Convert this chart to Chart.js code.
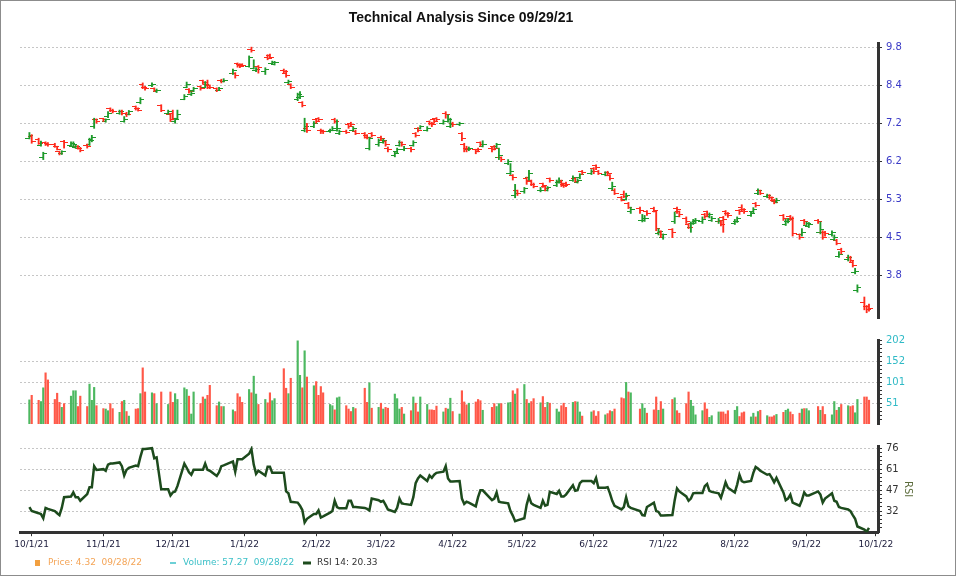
<!DOCTYPE html>
<html>
<head>
<meta charset="utf-8">
<script src="https://cdn.jsdelivr.net/npm/chart.js@4.4.1/dist/chart.umd.min.js"></script>
<style>
  html, body { margin: 0; padding: 0; background: #fff; }
  #wrap { position: relative; width: 960px; height: 576px; overflow: hidden; }
  #frame { position: absolute; left: 0; top: 0; width: 954px; height: 574px; border: 1px solid #8c8c8c; }
  canvas { position: absolute; left: 0; }
</style>
</head>
<body>
<div id="wrap">
  <div id="frame"></div>
  <canvas id="priceChart" width="922" height="328" style="top:0px"></canvas>
  <canvas id="volChart" width="922" height="104" style="top:330px"></canvas>
  <canvas id="rsiChart" width="918" height="140" style="top:436px"></canvas>
</div>
<script>
const chartTitle = 'Technical Analysis Since 09/29/21'
const legendItems = ['Price: 4.32  09/28/22', 'Volume: 57.27  09/28/22', 'RSI 14: 20.33']

const dates = [
  '9/30/21',
  '10/1/21','10/4/21','10/5/21','10/6/21','10/7/21','10/8/21','10/11/21','10/12/21','10/13/21','10/14/21','10/15/21',
  '10/18/21','10/19/21','10/20/21','10/21/21','10/22/21','10/25/21','10/26/21','10/27/21','10/28/21','10/29/21',
  '11/1/21','11/2/21','11/3/21','11/4/21','11/5/21','11/8/21','11/9/21','11/10/21','11/11/21','11/12/21','11/15/21',
  '11/16/21','11/17/21','11/18/21','11/19/21','11/22/21','11/23/21','11/24/21','11/26/21','11/29/21','11/30/21',
  '12/1/21','12/2/21','12/3/21','12/6/21','12/7/21','12/8/21','12/9/21','12/10/21','12/13/21','12/14/21','12/15/21',
  '12/16/21','12/17/21','12/20/21','12/21/21','12/22/21','12/23/21','12/27/21','12/28/21','12/29/21','12/30/21','12/31/21',
  '1/3/22','1/4/22','1/5/22','1/6/22','1/7/22','1/10/22','1/11/22','1/12/22','1/13/22','1/14/22',
  '1/18/22','1/19/22','1/20/22','1/21/22','1/24/22','1/25/22','1/26/22','1/27/22','1/28/22','1/31/22',
  '2/1/22','2/2/22','2/3/22','2/4/22','2/7/22','2/8/22','2/9/22','2/10/22','2/11/22','2/14/22',
  '2/15/22','2/16/22','2/17/22','2/18/22','2/22/22','2/23/22','2/24/22','2/25/22','2/28/22',
  '3/1/22','3/2/22','3/3/22','3/4/22','3/7/22','3/8/22','3/9/22','3/10/22','3/11/22','3/14/22','3/15/22','3/16/22',
  '3/17/22','3/18/22','3/21/22','3/22/22','3/23/22','3/24/22','3/25/22','3/28/22','3/29/22','3/30/22','3/31/22',
  '4/1/22','4/4/22','4/5/22','4/6/22','4/7/22','4/8/22','4/11/22','4/12/22','4/13/22','4/14/22',
  '4/18/22','4/19/22','4/20/22','4/21/22','4/22/22','4/25/22','4/26/22','4/27/22','4/28/22','4/29/22',
  '5/2/22','5/3/22','5/4/22','5/5/22','5/6/22','5/9/22','5/10/22','5/11/22','5/12/22','5/13/22','5/16/22',
  '5/17/22','5/18/22','5/19/22','5/20/22','5/23/22','5/24/22','5/25/22','5/26/22','5/27/22','5/31/22',
  '6/1/22','6/2/22','6/3/22','6/6/22','6/7/22','6/8/22','6/9/22','6/10/22','6/13/22','6/14/22','6/15/22',
  '6/16/22','6/17/22','6/21/22','6/22/22','6/23/22','6/24/22','6/27/22','6/28/22','6/29/22','6/30/22',
  '7/1/22','7/5/22','7/6/22','7/7/22','7/8/22','7/11/22','7/12/22','7/13/22','7/14/22','7/15/22',
  '7/18/22','7/19/22','7/20/22','7/21/22','7/22/22','7/25/22','7/26/22','7/27/22','7/28/22','7/29/22',
  '8/1/22','8/2/22','8/3/22','8/4/22','8/5/22','8/8/22','8/9/22','8/10/22','8/11/22','8/12/22','8/15/22','8/16/22',
  '8/17/22','8/18/22','8/19/22','8/22/22','8/23/22','8/24/22','8/25/22','8/26/22','8/29/22','8/30/22','8/31/22',
  '9/1/22','9/2/22','9/6/22','9/7/22','9/8/22','9/9/22','9/12/22','9/13/22','9/14/22','9/15/22',
  '9/16/22','9/19/22','9/20/22','9/21/22','9/22/22','9/23/22','9/26/22','9/27/22','9/28/22'
]

// price bars, one value per trading day
const opens = [
  6.72,
  6.78,6.68,6.52,6.20,6.60,6.58,6.56,6.48,6.35,6.30,6.62,6.52,6.48,6.46,6.50,6.45,6.53,6.55,6.68,7.05,7.25,
  7.28,7.20,7.35,7.60,7.55,7.45,7.52,7.20,7.45,7.42,7.65,7.60,7.80,8.40,8.30,8.35,8.25,8.15,7.70,7.45,7.40,
  7.45,7.20,7.30,7.90,8.30,8.22,8.05,8.18,8.32,8.52,8.30,8.38,8.35,8.25,8.20,8.55,8.50,8.80,8.80,9.15,9.12,9.12,
  9.05,9.72,8.98,8.90,9.05,8.85,9.40,9.48,9.15,9.12,8.90,8.80,8.45,8.40,7.90,7.95,7.80,6.95,7.00,7.05,
  7.25,7.28,6.95,6.93,6.90,6.95,7.25,6.95,6.85,6.92,7.10,7.15,6.95,6.92,6.85,6.80,6.45,6.85,6.55,
  6.75,6.60,6.62,6.45,6.25,6.35,6.52,6.60,6.40,6.45,6.52,6.85,7.00,7.00,6.95,7.20,7.15,7.25,7.30,7.15,7.45,7.20,7.05,
  7.15,7.10,6.85,6.55,6.45,6.40,6.40,6.42,6.60,6.50,6.45,6.50,6.48,6.20,6.20,6.05,5.80,5.75,5.30,5.40,
  5.38,5.68,5.70,5.62,5.55,5.40,5.56,5.50,5.42,5.68,5.52,5.60,5.62,5.55,5.58,5.65,5.68,5.60,5.70,5.85,5.80,
  5.92,6.00,5.85,5.78,5.84,5.75,5.45,5.42,5.25,5.32,5.22,5.12,4.95,5.02,4.78,4.78,4.95,5.02,4.95,4.52,4.55,
  4.45,4.60,4.75,5.02,4.95,4.82,4.70,4.65,4.72,4.75,4.75,4.90,4.95,4.85,4.78,4.75,4.76,4.84,4.95,4.92,
  4.72,4.76,4.98,5.05,5.00,4.88,4.95,5.12,5.35,5.40,5.27,5.30,5.25,5.20,5.16,4.88,4.70,4.75,4.86,4.82,4.50,4.50,4.78,
  4.68,4.66,4.78,4.55,4.55,4.55,4.50,4.42,4.40,4.12,4.24,4.06,4.10,4.02,3.85,3.58,3.40,3.34,3.35
]
const highs = [
  6.88,
  6.82,6.72,6.64,6.34,6.62,6.60,6.58,6.50,6.37,6.38,6.66,6.62,6.62,6.54,6.52,6.47,6.56,6.72,6.80,7.30,7.28,
  7.30,7.28,7.50,7.62,7.58,7.55,7.55,7.35,7.48,7.54,7.68,7.62,7.95,8.45,8.33,8.45,8.28,8.24,7.72,7.55,7.42,
  7.55,7.30,7.55,8.05,8.48,8.25,8.15,8.30,8.35,8.55,8.50,8.55,8.38,8.28,8.30,8.58,8.60,8.95,8.82,9.18,9.15,9.15,
  9.45,9.80,9.30,9.00,9.08,9.00,9.50,9.52,9.25,9.24,8.95,8.90,8.55,8.42,8.10,8.15,7.82,7.30,7.15,7.20,
  7.28,7.32,6.98,6.95,6.98,7.05,7.30,7.25,6.95,6.95,7.12,7.18,7.05,6.95,6.88,6.82,6.75,6.88,6.70,
  6.78,6.70,6.65,6.48,6.35,6.45,6.65,6.62,6.50,6.48,6.65,6.88,7.02,7.08,7.05,7.22,7.18,7.28,7.32,7.25,7.50,7.40,7.30,
  7.18,7.18,6.88,6.58,6.50,6.48,6.42,6.45,6.62,6.65,6.48,6.52,6.58,6.45,6.22,6.15,6.05,5.78,5.55,5.42,
  5.48,5.72,5.88,5.65,5.58,5.48,5.58,5.52,5.50,5.70,5.65,5.70,5.65,5.58,5.60,5.75,5.70,5.68,5.80,5.88,5.90,
  5.95,6.02,5.88,5.85,5.86,5.78,5.60,5.45,5.28,5.40,5.35,5.15,5.05,5.05,4.90,4.88,4.98,5.05,4.98,4.62,4.58,
  4.52,4.62,4.95,5.05,4.97,4.85,4.72,4.75,4.80,4.82,4.85,4.92,4.97,4.93,4.86,4.82,4.78,4.86,4.98,4.94,
  4.80,4.85,5.00,5.10,5.02,4.95,5.04,5.15,5.45,5.42,5.33,5.32,5.27,5.22,5.24,4.90,4.80,4.82,4.88,4.85,4.52,4.62,4.80,
  4.75,4.74,4.80,4.75,4.58,4.57,4.58,4.50,4.42,4.20,4.26,4.14,4.12,4.04,3.92,3.66,3.48,3.36,3.38
]
const lows = [
  6.70,
  6.58,6.55,6.50,6.15,6.52,6.50,6.47,6.40,6.27,6.28,6.45,6.50,6.46,6.44,6.42,6.35,6.45,6.52,6.62,7.00,7.15,
  7.20,7.18,7.32,7.50,7.46,7.42,7.40,7.18,7.35,7.40,7.55,7.52,7.75,8.25,8.20,8.32,8.15,8.12,7.50,7.42,7.20,
  7.25,7.15,7.28,7.88,8.28,8.10,8.02,8.15,8.20,8.40,8.28,8.25,8.25,8.15,8.18,8.45,8.48,8.75,8.62,9.02,9.00,9.05,
  9.02,9.60,8.95,8.85,8.80,8.75,9.30,9.35,9.12,9.10,8.80,8.65,8.42,8.25,7.85,7.92,7.65,6.90,6.88,7.02,
  7.15,7.22,6.85,6.85,6.88,6.93,7.15,6.92,6.82,6.85,7.00,7.05,6.92,6.82,6.72,6.70,6.40,6.75,6.50,
  6.65,6.58,6.50,6.35,6.22,6.32,6.50,6.50,6.38,6.35,6.50,6.75,6.90,6.98,6.92,7.10,7.05,7.15,7.20,7.12,7.30,7.18,7.02,
  7.05,7.08,6.65,6.35,6.35,6.38,6.30,6.35,6.50,6.48,6.35,6.40,6.45,6.15,6.10,6.02,5.78,5.65,5.25,5.30,
  5.35,5.55,5.65,5.52,5.47,5.38,5.48,5.40,5.40,5.60,5.50,5.58,5.50,5.48,5.50,5.62,5.60,5.58,5.68,5.78,5.78,
  5.80,5.90,5.78,5.75,5.75,5.65,5.42,5.32,5.18,5.25,5.20,5.02,4.92,4.92,4.75,4.76,4.88,4.95,4.58,4.50,4.45,
  4.42,4.45,4.72,4.92,4.85,4.72,4.62,4.55,4.70,4.72,4.72,4.82,4.85,4.83,4.76,4.72,4.67,4.55,4.88,4.84,
  4.70,4.74,4.90,4.96,4.92,4.86,4.93,5.05,5.32,5.32,5.25,5.22,5.17,5.12,5.14,4.78,4.68,4.73,4.78,4.48,4.42,4.48,4.70,
  4.66,4.64,4.72,4.52,4.42,4.48,4.48,4.40,4.32,4.10,4.16,4.04,4.02,3.94,3.83,3.55,3.30,3.26,3.28
]
const closes = [
  6.80,
  6.62,6.58,6.60,6.30,6.55,6.55,6.50,6.42,6.30,6.35,6.60,6.58,6.55,6.50,6.45,6.38,6.50,6.65,6.75,7.25,7.20,
  7.25,7.25,7.45,7.55,7.50,7.50,7.45,7.25,7.40,7.50,7.60,7.55,7.90,8.30,8.25,8.40,8.20,8.20,7.55,7.50,7.25,
  7.30,7.25,7.40,8.00,8.40,8.15,8.10,8.25,8.25,8.45,8.40,8.30,8.30,8.20,8.25,8.50,8.55,8.90,8.70,9.10,9.05,9.10,
  9.40,9.65,9.05,8.95,9.00,8.95,9.35,9.40,9.20,9.20,8.85,8.70,8.50,8.30,8.05,8.00,7.70,7.05,6.95,7.15,
  7.20,7.25,6.90,6.90,6.95,7.00,7.20,7.00,6.90,6.88,7.05,7.10,7.00,6.85,6.75,6.75,6.70,6.80,6.65,
  6.70,6.65,6.55,6.40,6.30,6.40,6.60,6.55,6.45,6.40,6.60,6.80,6.95,7.05,7.00,7.15,7.10,7.20,7.25,7.20,7.40,7.25,7.10,
  7.10,7.15,6.70,6.45,6.40,6.45,6.35,6.40,6.55,6.55,6.40,6.45,6.55,6.25,6.15,6.10,5.85,5.70,5.35,5.35,
  5.45,5.65,5.80,5.55,5.50,5.42,5.52,5.45,5.47,5.65,5.60,5.65,5.52,5.52,5.55,5.72,5.62,5.65,5.77,5.82,5.85,
  5.85,5.95,5.80,5.82,5.80,5.68,5.50,5.35,5.20,5.28,5.30,5.05,5.00,4.97,4.82,4.82,4.92,4.98,4.62,4.57,4.50,
  4.50,4.55,4.85,5.00,4.90,4.75,4.65,4.72,4.78,4.78,4.80,4.85,4.90,4.90,4.82,4.78,4.70,4.80,4.92,4.87,
  4.75,4.82,4.95,5.00,4.95,4.92,5.00,5.08,5.40,5.35,5.30,5.25,5.20,5.15,5.20,4.82,4.75,4.80,4.82,4.52,4.45,4.55,4.75,
  4.72,4.70,4.75,4.60,4.45,4.52,4.55,4.45,4.35,4.15,4.20,4.10,4.05,3.97,3.87,3.62,3.35,3.30,3.32
]
const volumes = [
  58,
  69,57,54,87,123,106,59,74,52,40,49,67,80,80,42,67,42,96,57,88,44,
  37,36,32,49,37,28,54,57,30,19,36,37,73,135,77,75,73,49,77,47,77,
  52,73,59,87,83,67,24,77,49,65,60,69,93,44,53,42,42,34,30,73,65,52,
  83,75,115,72,47,59,51,75,56,61,133,86,73,110,200,117,87,176,113,92,
  102,69,90,75,47,44,34,63,65,44,36,30,40,37,86,52,99,38,40,
  50,36,40,38,72,61,36,40,24,32,65,50,29,65,47,34,34,33,43,29,38,36,62,
  30,24,80,53,46,50,53,59,56,33,40,49,42,49,49,51,52,80,72,85,
  95,59,50,54,61,51,66,40,52,50,36,29,44,50,40,52,54,53,29,19,29,
  32,19,30,22,25,32,30,36,63,61,100,77,75,36,49,38,26,34,65,33,54,
  36,59,63,32,26,49,77,57,43,22,32,51,36,16,20,29,29,29,24,32,
  33,42,18,27,29,17,26,17,30,33,20,17,17,20,23,28,33,36,29,23,26,36,37,
  37,32,42,33,42,23,22,54,33,40,47,44,42,44,27,59,65,65,57.27
]
const rsi = [
  34.9,
  32.1,30.6,30.0,27.1,34.3,33.6,32.1,30.6,29.3,34.3,41.8,42.3,45.1,41.8,41.8,39.3,44.0,48.8,48.8,63.5,60.9,
  61.4,60.3,64.6,65.3,65.3,66.1,63.5,57.0,60.9,62.4,64.0,63.5,70.0,75.5,75.5,76.1,69.0,69.6,47.3,47.3,43.0,
  45.1,45.8,49.5,65.3,62.4,59.2,57.5,60.9,60.9,60.9,65.3,60.9,60.3,56.6,59.2,63.5,64.0,66.8,59.6,68.3,68.3,68.3,
  72.2,75.5,64.6,58.1,60.3,57.0,63.1,63.1,58.8,58.8,58.8,45.8,44.5,38.6,38.0,35.8,32.8,24.1,26.7,30.0,
  30.0,32.5,27.6,28.4,31.0,32.1,39.3,34.9,34.0,34.0,39.3,39.3,34.9,34.9,34.3,33.6,32.5,40.8,39.7,
  38.6,39.3,36.4,33.2,31.5,34.3,40.8,37.5,37.1,36.4,41.8,51.6,54.9,57.0,53.1,57.0,55.3,57.5,58.8,59.6,63.5,54.9,52.7,
  52.7,53.1,40.8,37.1,38.6,38.0,35.4,41.8,46.6,46.6,39.7,40.8,45.1,38.6,38.2,37.5,32.1,28.9,25.0,25.6,
  27.1,36.4,42.3,37.5,36.4,34.3,39.3,35.8,36.4,45.5,44.0,46.2,42.3,42.3,43.6,50.1,46.2,46.6,51.6,53.1,53.1,
  51.6,55.3,48.4,48.4,48.8,44.5,39.3,35.8,33.2,34.9,41.8,35.4,34.3,32.1,29.3,28.9,34.9,38.0,32.1,31.5,28.9,
  28.9,29.3,39.7,47.9,45.8,42.3,39.3,40.8,44.5,44.7,44.7,49.5,51.0,46.2,45.5,44.5,41.4,46.6,52.2,48.4,
  45.1,50.6,57.5,53.1,52.2,53.1,58.8,62.9,61.8,60.3,57.5,57.9,55.3,52.2,55.3,45.1,39.7,40.8,43.6,38.0,35.8,39.7,45.1,
  43.0,43.0,45.8,43.6,38.0,40.8,44.5,39.3,38.6,34.9,34.3,33.2,32.1,29.3,26.7,21.3,19.1,17.6,20.33
]

const monthTicks = ['10/1/21','11/1/21','12/1/21','1/1/22','2/1/22','3/1/22','4/1/22','5/1/22','6/1/22','7/1/22','8/1/22','9/1/22','10/1/22']
const priceTicks = [9.8, 8.37, 7.15, 6.11, 5.22, 4.46, 3.8]
const priceTickLabels = ['9.8', '8.4', '7.2', '6.2', '5.3', '4.5', '3.8']
const volumeTicks = [50.5, 101, 151.5, 202]
const rsiTicks = [32.0, 46.7, 61.4, 76.1]
const volumeMinor = 10.1   // five small ticks per labelled step
const rsiMinor = 2.94

// days counted from 10/1/21 so the x axis is plain calendar time
const ORIGIN = Date.UTC(2021, 9, 1)
function dayNum(s) {
    const [m, d, y] = s.split('/').map(Number)
    return (Date.UTC(2000 + y, m - 1, d) - ORIGIN) / 86400000
}
const xs = dates.map(dayNum)
const ups = closes.map((c, i) => c >= opens[i])

const UP = '#1e9a2b', DOWN = '#ff2a1c'
const VOL_UP = '#4cb860', VOL_DOWN = '#ff5848'
const GRID = '#c6c6c6', AXIS = '#333', NONE = 'rgba(0,0,0,0)'
const X_MIN = -5.06, X_MAX = 365.9

const isMajor = (v, list) => list.some(t => Math.abs(t - v) < 0.01)
function withMinor(from, to, step) {
    const out = []
    for (let v = from; v <= to + 0.001; v += step) out.push({ value: Math.round(v * 100) / 100 })
    return out
}

// little left / right tick marks for open and close
function tickMark(color, side) {
    const c = document.createElement('canvas')
    c.width = 8
    c.height = 1
    const g = c.getContext('2d')
    g.fillStyle = color
    g.fillRect(side === 'open' ? 0 : 4, 0, 4, 1)
    return c
}
const marks = {
    openUp: tickMark(UP, 'open'), openDown: tickMark(DOWN, 'open'),
    closeUp: tickMark(UP, 'close'), closeDown: tickMark(DOWN, 'close')
}

const xHidden = { type: 'linear', min: X_MIN, max: X_MAX, offset: false, display: false, grid: { offset: false } }
const rightAxis = (width) => ({
    position: 'right',
    afterFit: s => { s.width = width },
    grid: { color: GRID, tickColor: AXIS, tickLength: 4 },
    border: { display: true, color: AXIS, width: 3, dash: [2, 2] }
})
const base = {
    responsive: false,
    animation: false,
    events: [],
    plugins: { legend: { display: false }, tooltip: { enabled: false } }
}

new Chart(document.getElementById('priceChart'), {
    type: 'bar',
    data: {
        datasets: [
            {
                label: 'High-Low',
                data: xs.map((x, i) => ({ x: x, y: [lows[i], highs[i]] })),
                backgroundColor: ups.map(u => u ? UP : DOWN),
                barThickness: 1.2,
                borderWidth: 0
            },
            {
                type: 'line',
                label: 'Open',
                data: xs.map((x, i) => ({ x: x, y: opens[i] })),
                showLine: false,
                pointRadius: 3,
                pointStyle: ups.map(u => u ? marks.openUp : marks.openDown)
            },
            {
                type: 'line',
                label: 'Close',
                data: xs.map((x, i) => ({ x: x, y: closes[i] })),
                showLine: false,
                pointRadius: 3,
                pointStyle: ups.map(u => u ? marks.closeUp : marks.closeDown)
            }
        ]
    },
    options: {
        ...base,
        layout: { autoPadding: false, padding: { left: 20, right: 20, top: 0, bottom: 0 } },
        plugins: {
            ...base.plugins,
            title: {
                display: true,
                text: chartTitle,
                color: '#111',
                font: { family: '"Liberation Sans", Arial, sans-serif', size: 14, weight: 'bold' },
                padding: { top: 9.5, bottom: 16.7 }
            }
        },
        scales: {
            x: xHidden,
            y: {
                ...rightAxis(24),
                type: 'logarithmic',
                min: 3.19,
                max: 9.97,
                afterBuildTicks: s => { s.ticks = priceTicks.map(v => ({ value: v })) },
                ticks: {
                    autoSkip: false,
                    padding: 4,
                    color: '#3a3ac6',
                    font: { family: 'DejaVu Sans', size: 10 },
                    callback: (v, i) => priceTickLabels[i]
                }
            }
        }
    }
})

new Chart(document.getElementById('volChart'), {
    type: 'bar',
    data: {
        datasets: [{
            label: 'Volume',
            data: xs.map((x, i) => ({ x: x, y: volumes[i] })),
            backgroundColor: ups.map(u => u ? VOL_UP : VOL_DOWN),
            barThickness: 1.5,
            borderWidth: 0
        }]
    },
    options: {
        ...base,
        layout: { autoPadding: false, padding: { left: 20, right: 8, top: 8, bottom: 1 } },
        scales: {
            x: xHidden,
            y: {
                ...rightAxis(36),
                min: 0,
                max: 202,
                afterBuildTicks: s => { s.ticks = withMinor(volumeMinor, 202, volumeMinor) },
                grid: {
                    color: c => (c.tick && isMajor(c.tick.value, volumeTicks) && c.tick.value < 200) ? GRID : NONE,
                    tickColor: AXIS,
                    tickLength: 4
                },
                ticks: {
                    autoSkip: false,
                    padding: 4,
                    color: '#2fbac6',
                    font: { family: 'DejaVu Sans', size: 10 },
                    callback: v => isMajor(v, volumeTicks) ? Math.round(v) : ''
                }
            }
        }
    }
})

// legend row under the x axis
const bottomLegend = {
    id: 'bottomLegend',
    afterDraw(chart) {
        const c = chart.ctx
        const y = 127
        c.save()
        c.font = '9px "DejaVu Sans"'
        c.textBaseline = 'middle'
        c.fillStyle = '#f2a040'
        c.fillRect(35, y - 3, 5, 6)
        c.fillStyle = '#f4a456'
        c.fillText(legendItems[0], 48, y)

        c.strokeStyle = '#3cc0c8'
        c.lineWidth = 1.5
        c.beginPath(); c.moveTo(170, y); c.lineTo(176, y); c.stroke()
        c.fillStyle = '#3cc0c8'
        c.fillText(legendItems[1], 183, y)

        c.strokeStyle = '#1d4b1d'
        c.lineWidth = 3
        c.beginPath(); c.moveTo(303, y); c.lineTo(311, y); c.stroke()
        c.fillStyle = '#333'
        c.fillText(legendItems[2], 317, y)
        c.restore()
    }
}

new Chart(document.getElementById('rsiChart'), {
    type: 'line',
    data: {
        datasets: [{
            label: 'RSI 14',
            data: xs.map((x, i) => ({ x: x, y: rsi[i] })),
            borderColor: '#1d4b1d',
            borderWidth: 2.5,
            pointRadius: 0,
            tension: 0
        }]
    },
    options: {
        ...base,
        layout: { autoPadding: false, padding: { left: 20, right: 0, top: 6, bottom: 23 } },
        scales: {
            x: {
                type: 'linear',
                min: X_MIN,
                max: X_MAX,
                offset: false,
                afterBuildTicks: s => { s.ticks = monthTicks.map(m => ({ value: dayNum(m) })) },
                grid: { drawOnChartArea: false, tickColor: AXIS, tickLength: 4, offset: false },
                border: { color: AXIS, width: 3 },
                ticks: {
                    autoSkip: false,
                    maxRotation: 0,
                    padding: 3,
                    color: '#20203f',
                    font: { family: 'DejaVu Sans', size: 9 },
                    callback: (v, i) => monthTicks[i]
                }
            },
            y: {
                ...rightAxis(40),
                min: 17.3,
                max: 77.6,
                afterBuildTicks: s => { s.ticks = withMinor(17.3 + rsiMinor, 77.6, rsiMinor) },
                grid: {
                    color: c => (c.tick && isMajor(c.tick.value, rsiTicks)) ? GRID : NONE,
                    tickColor: AXIS,
                    tickLength: 4
                },
                ticks: {
                    autoSkip: false,
                    padding: 4,
                    color: '#333',
                    font: { family: 'DejaVu Sans', size: 10 },
                    callback: v => isMajor(v, rsiTicks) ? Math.round(v) : ''
                },
                title: {
                    display: true,
                    text: 'RSI',
                    color: '#5b6b3b',
                    font: { family: 'DejaVu Sans', size: 10 },
                    padding: 4
                }
            }
        }
    },
    plugins: [bottomLegend]
})
</script>
</body>
</html>
